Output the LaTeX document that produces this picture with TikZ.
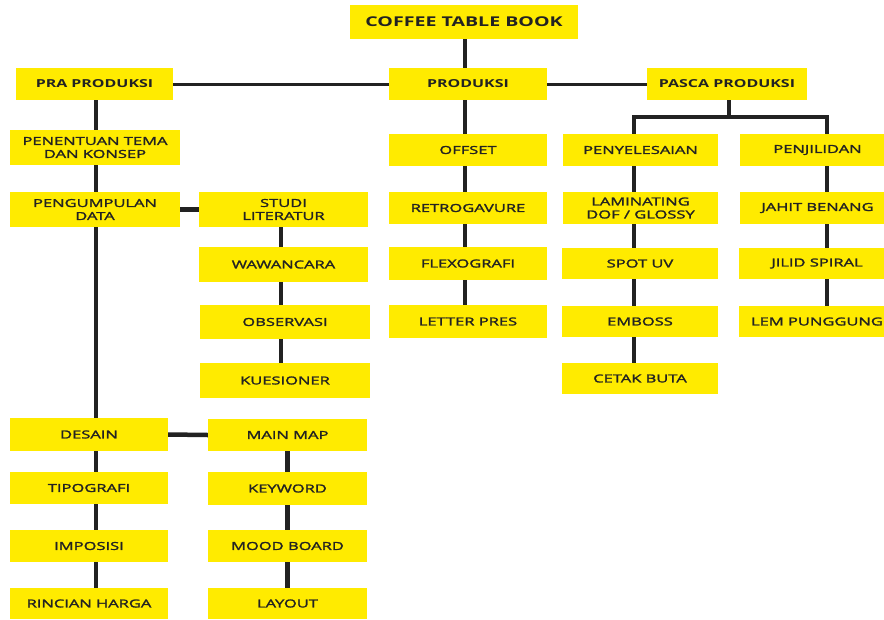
\documentclass[tikz,border=0pt]{standalone}
\usepackage{fontspec}
\newfontfamily\lblfont[FakeStretch=1.5,FakeBold=2]{Open Sans}
\newfontfamily\hdrfont[FakeStretch=1.45]{Open Sans}
\definecolor{yel}{RGB}{255,235,0}
\definecolor{ink}{RGB}{34,34,34}
\begin{document}
\begin{tikzpicture}[x=1pt,y=-1pt,
  box/.style={fill=yel, draw=none, inner sep=0pt, align=center, text=ink,
    font=\lblfont\fontsize{11}{13}\selectfont},
  hdr/.style={box, font=\hdrfont\bfseries\fontsize{11}{13}\selectfont},
  link/.style={draw=ink, line width=4.5pt},
  hlink/.style={draw=ink, line width=3pt}]
\clip (0,0) rectangle (884,619);
\fill[white] (0,0) rectangle (884,619);
% headers
\node[hdr, minimum width=228pt, minimum height=34pt, font=\hdrfont\bfseries\fontsize{13.5}{15}\selectfont] (cof) at (464,22) {COFFEE TABLE BOOK};
\node[hdr, minimum width=157pt, minimum height=32pt] (pra) at (94.5,84) {PRA PRODUKSI};
\node[hdr, minimum width=158pt, minimum height=32pt] (prod) at (468,84) {PRODUKSI};
\node[hdr, minimum width=160pt, minimum height=32pt] (pasca) at (727,84) {PASCA PRODUKSI};
% pra produksi column
\node[box, minimum width=170pt, minimum height=35pt] (tema) at (95,147.5) {PENENTUAN TEMA\\DAN KONSEP};
\node[box, minimum width=170pt, minimum height=35pt] (peng) at (95,209.5) {PENGUMPULAN\\DATA};
\node[box, minimum width=169pt, minimum height=35pt] (studi) at (283.5,209.5) {STUDI\\LITERATUR};
\node[box, minimum width=169pt, minimum height=35pt] (wawan) at (283.5,264.5) {WAWANCARA};
\node[box, minimum width=170pt, minimum height=34pt] (obs) at (285,322) {OBSERVASI};
\node[box, minimum width=170pt, minimum height=35pt] (kues) at (285,380.5) {KUESIONER};
\node[box, minimum width=158pt, minimum height=33pt] (desain) at (89,434.5) {DESAIN};
\node[box, minimum width=158pt, minimum height=32pt] (tipo) at (89,488) {TIPOGRAFI};
\node[box, minimum width=158pt, minimum height=32pt] (impo) at (89,546) {IMPOSISI};
\node[box, minimum width=158pt, minimum height=31pt] (rincian) at (89,603.5) {RINCIAN HARGA};
\node[box, minimum width=159pt, minimum height=32pt] (mainmap) at (287.5,435) {MAIN MAP};
\node[box, minimum width=159pt, minimum height=33pt] (keyword) at (287.5,488.5) {KEYWORD};
\node[box, minimum width=159pt, minimum height=32pt] (mood) at (287.5,546) {MOOD BOARD};
\node[box, minimum width=159pt, minimum height=31pt] (layout) at (287.5,603.5) {LAYOUT};
% produksi column
\node[box, minimum width=158pt, minimum height=32pt] (offset) at (468,150) {OFFSET};
\node[box, minimum width=158pt, minimum height=32pt] (retro) at (468,208) {RETROGAVURE};
\node[box, minimum width=158pt, minimum height=33pt] (flexo) at (468,263.5) {FLEXOGRAFI};
\node[box, minimum width=158pt, minimum height=33pt] (letter) at (468,321.5) {LETTER PRES};
% pasca produksi columns
\node[box, minimum width=155pt, minimum height=32pt] (penye) at (640.5,150) {PENYELESAIAN};
\node[box, minimum width=155pt, minimum height=32pt] (lamin) at (640.5,208) {LAMINATING\\DOF / GLOSSY};
\node[box, minimum width=156pt, minimum height=31pt] (spot) at (640,263.5) {SPOT UV};
\node[box, minimum width=156pt, minimum height=31pt] (emboss) at (640,321.5) {EMBOSS};
\node[box, minimum width=156pt, minimum height=31pt] (cetak) at (640,378.5) {CETAK BUTA};
\node[box, minimum width=155pt, minimum height=32pt] (penji) at (817.5,150) {PENJILIDAN};
\node[box, minimum width=155pt, minimum height=32pt] (jahit) at (817.5,208) {JAHIT BENANG};
\node[box, minimum width=156pt, minimum height=31pt] (jilid) at (817,263.5) {JILID SPIRAL};
\node[box, minimum width=156pt, minimum height=31pt] (lem) at (817,321.5) {LEM PUNGGUNG};
% connector x positions
\coordinate (xP) at (96,0);
\coordinate (xS) at (281,0);
\coordinate (xM) at (287.5,0);
\coordinate (xD) at (465,0);
\coordinate (xY) at (634,0);
\coordinate (xJ) at (827,0);
\coordinate (xT) at (729,0);
\coordinate (br) at (729,117);
% horizontal connectors
\draw[hlink] (pra.east) -- (prod.west);
\draw[hlink] (prod.east) -- (pasca.west);
\draw[link] (peng.east) -- (studi.west);
\draw[link] (desain.east) -- (mainmap.west);
% vertical chains
\draw[link] (pra.south -| xP) -- (tema.north -| xP);
\draw[link] (tema.south -| xP) -- (peng.north -| xP);
\draw[link] (peng.south -| xP) -- (desain.north -| xP);
\draw[link] (desain.south -| xP) -- (tipo.north -| xP);
\draw[link] (tipo.south -| xP) -- (impo.north -| xP);
\draw[link] (impo.south -| xP) -- (rincian.north -| xP);
\draw[link] (studi.south -| xS) -- (wawan.north -| xS);
\draw[link] (wawan.south -| xS) -- (obs.north -| xS);
\draw[link] (obs.south -| xS) -- (kues.north -| xS);
\draw[link] (mainmap.south -| xM) -- (keyword.north -| xM);
\draw[link] (keyword.south -| xM) -- (mood.north -| xM);
\draw[link] (mood.south -| xM) -- (layout.north -| xM);
\draw[link] (cof.south -| xD) -- (prod.north -| xD);
\draw[link] (prod.south -| xD) -- (offset.north -| xD);
\draw[link] (offset.south -| xD) -- (retro.north -| xD);
\draw[link] (retro.south -| xD) -- (flexo.north -| xD);
\draw[link] (flexo.south -| xD) -- (letter.north -| xD);
\draw[link] (pasca.south -| xT) -- (br);
\draw[link] (penye.north -| xY) |- (br) -| (penji.north -| xJ);
\draw[link] (penye.south -| xY) -- (lamin.north -| xY);
\draw[link] (lamin.south -| xY) -- (spot.north -| xY);
\draw[link] (spot.south -| xY) -- (emboss.north -| xY);
\draw[link] (emboss.south -| xY) -- (cetak.north -| xY);
\draw[link] (penji.south -| xJ) -- (jahit.north -| xJ);
\draw[link] (jahit.south -| xJ) -- (jilid.north -| xJ);
\draw[link] (jilid.south -| xJ) -- (lem.north -| xJ);
\end{tikzpicture}
\end{document}
